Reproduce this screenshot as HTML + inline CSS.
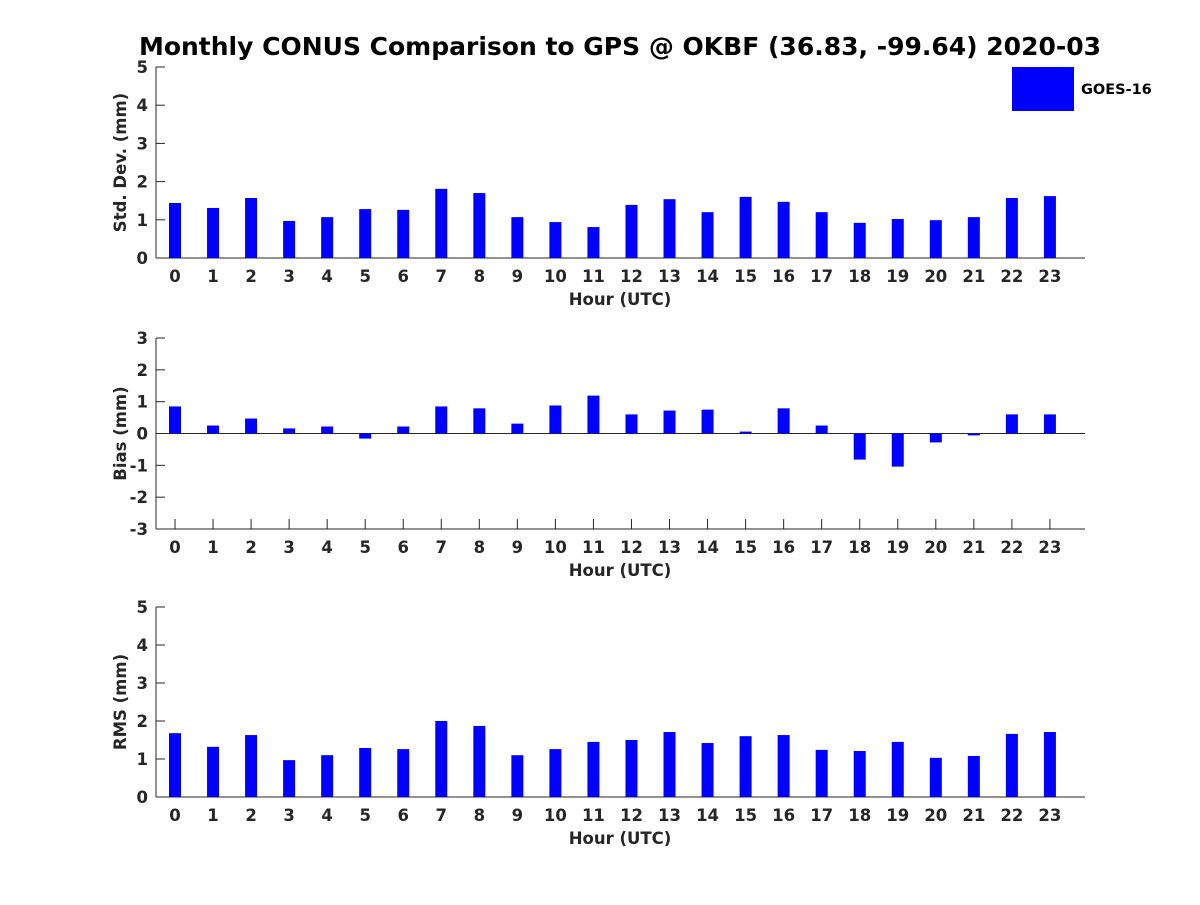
<!DOCTYPE html>
<html><head><meta charset="utf-8"><style>
body{margin:0;background:#fff}
svg text{font-family:"DejaVu Sans","Liberation Sans",sans-serif;font-weight:bold;fill:#262626}
</style></head><body>
<svg id="c" width="1200" height="900" xmlns="http://www.w3.org/2000/svg">
<text x="620" y="55" font-size="25" text-anchor="middle" style="fill:#000">Monthly CONUS Comparison to GPS @ OKBF (36.83, -99.64) 2020-03</text>
<rect x="1012" y="67" width="62" height="44" fill="#0000ff"/>
<text x="1081" y="94" font-size="14.5" style="fill:#000">GOES-16</text>
</svg>
<script>
const hours=[0,1,2,3,4,5,6,7,8,9,10,11,12,13,14,15,16,17,18,19,20,21,22,23];
const stdValues=[1.44,1.31,1.57,0.97,1.07,1.28,1.26,1.81,1.70,1.07,0.94,0.81,1.39,1.54,1.20,1.60,1.47,1.20,0.92,1.02,0.99,1.07,1.57,1.62];
const biasValues=[0.85,0.25,0.47,0.16,0.22,-0.16,0.22,0.85,0.79,0.31,0.88,1.19,0.60,0.72,0.75,0.06,0.79,0.25,-0.82,-1.04,-0.28,-0.06,0.60,0.60];
const rmsValues=[1.68,1.32,1.63,0.97,1.10,1.29,1.26,2.00,1.87,1.10,1.26,1.45,1.50,1.71,1.42,1.60,1.63,1.24,1.21,1.45,1.03,1.08,1.66,1.71];
const stdTicks=[0,1,2,3,4,5];
const biasTicks=[-3,-2,-1,0,1,2,3];
const rmsTicks=[0,1,2,3,4,5];
const svg=document.getElementById('c');
const NS='http://www.w3.org/2000/svg';
function mk(t,a){const e=document.createElementNS(NS,t);for(const k in a)e.setAttribute(k,a[k]);svg.appendChild(e);return e;}
const X0=156,X1=1085;
function xs(h){return 175+h*38.04;}
function panel(name,vals,ticks,ymin,ymax,top,bot,label){
  const ys=v=>bot-(v-ymin)/(ymax-ymin)*(bot-top);
  const ax=mk('line',{x1:X0,y1:top,x2:X0,y2:bot,stroke:'#262626','stroke-width':1});
  
  
  const bx=mk('line',{x1:X0,y1:bot,x2:X1,y2:bot,stroke:'#262626','stroke-width':1});
  
  
  ticks.forEach(t=>{
    const y=ys(t);
    mk('line',{x1:X0,y1:y,x2:X0+9,y2:y,stroke:'#262626'});
    const tx=mk('text',{x:X0-8,y:y+6,'font-size':16.5,'text-anchor':'end'});
    tx.textContent=t;
    
    
  });
  const y0=ys(0);
  if(ymin<0){mk('line',{x1:X0,y1:y0,x2:X1,y2:y0,stroke:'#262626'});}
  hours.forEach((h,i)=>{
    const x=xs(h);
    mk('line',{x1:x,y1:bot,x2:x,y2:bot-10,stroke:'#262626'});
    const tx=mk('text',{x:x,y:bot+24,'font-size':16.5,'text-anchor':'middle'});
    tx.textContent=h;
    
    
    const v=vals[i],yv=ys(v);
    const r=mk('rect',{x:x-6,y:Math.min(yv,y0),width:12,height:Math.abs(y0-yv),fill:'#0000ff'});
    
    
  });
  const xl=mk('text',{x:620,y:bot+47,'font-size':16.5,'text-anchor':'middle'});
  xl.textContent='Hour (UTC)';
  
  
  const cy=(top+bot)/2;
  const yl=mk('text',{x:0,y:0,'font-size':16.5,'text-anchor':'middle',transform:'translate(126,'+cy+') rotate(-90)'});
  yl.textContent=label;
  
  
}
panel('std',stdValues,stdTicks,0,5,67,258,'Std. Dev. (mm)');
panel('bias',biasValues,biasTicks,-3,3,338,529,'Bias (mm)');
panel('rms',rmsValues,rmsTicks,0,5,607,797,'RMS (mm)');
</script>
</body></html>
